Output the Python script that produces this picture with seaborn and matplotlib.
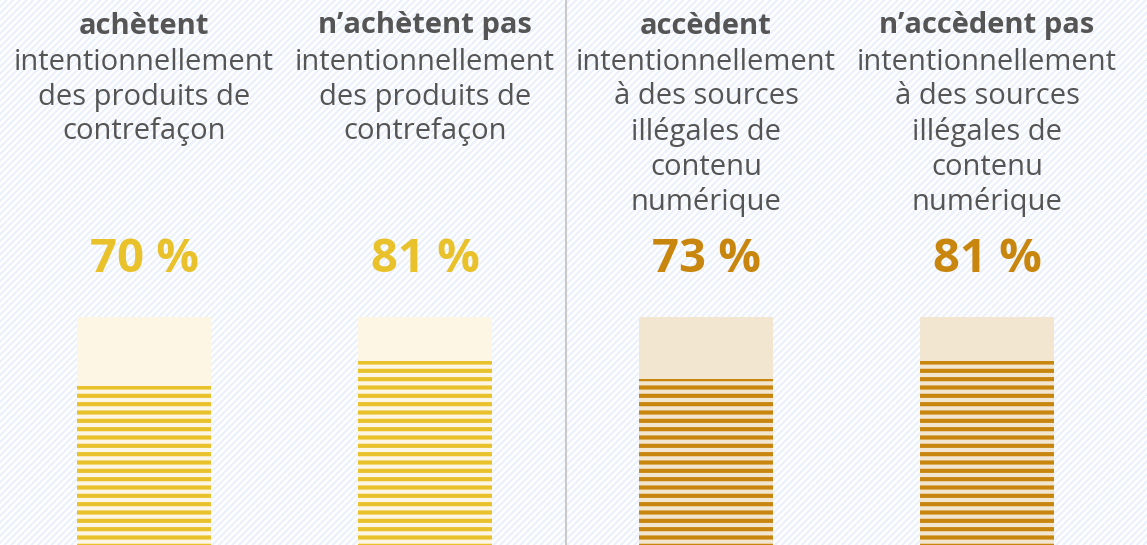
import numpy as np
import pandas as pd
import matplotlib
matplotlib.use("Agg")
import matplotlib.pyplot as plt
import matplotlib.transforms as mtransforms
from matplotlib.lines import Line2D
import seaborn as sns

# data
groups = ["achètent", "n’achètent pas", "accèdent", "n’accèdent pas"]
details = [
    ["intentionnellement", "des produits de", "contrefaçon"],
    ["intentionnellement", "des produits de", "contrefaçon"],
    ["intentionnellement", "à des sources", "illégales de", "contenu", "numérique"],
    ["intentionnellement", "à des sources", "illégales de", "contenu", "numérique"],
]
shares = [70, 81, 73, 81]
labels = ["70 %", "81 %", "73 %", "81 %"]

strong = ["#e9c22b", "#e9c22b", "#c8860f", "#c8860f"]
pale = ["#fdf6e4", "#fdf6e4", "#f2e6d1", "#f2e6d1"]
grey_txt = "#555555"

sns.set_theme(style="white")
plt.rcParams["font.family"] = ["Open Sans", "DejaVu Sans"]
plt.rcParams["hatch.linewidth"] = 3.0

W, H = 1147, 545
fig = plt.figure(figsize=(W / 100, H / 100), dpi=100)
fig.patch.set_facecolor("white")

# faint diagonal background stripes (pixel coords)
step = 6.7
for off in np.arange(-H, W + step, step):
    fig.add_artist(Line2D([off, off + H], [0, H], transform=None,
                          color="#ebf1fb", lw=1.6, zorder=-5))

# axes spanning the full height, x centred on the four columns
ax = fig.add_axes([3.5 / W, 0, 1124 / W, 1])
ax.set_facecolor("none")

df = pd.DataFrame({"group": groups, "share": shares, "full": [100] * 4})

sns.barplot(data=df, x="group", y="full", hue="group", palette=pale,
            width=0.477, legend=False, ax=ax, linewidth=0, saturation=1)
n_bg = len(ax.patches)
sns.barplot(data=df, x="group", y="share", hue="group", palette=pale,
            width=0.477, legend=False, ax=ax, linewidth=0, saturation=1)
for p, c in zip(ax.patches[n_bg:], strong):
    p.set_hatch("--")
    p.set_edgecolor(c)
    p.set_linewidth(0)
    p.set_zorder(3)

# value 0 at pixel 547, value 100 at pixel 317
per_px = 100 / 230
ax.set_ylim((547 - H) * per_px, 547 * per_px)
ax.set_xlim(-0.5, 3.5)
ax.axis("off")

# text in pixel-y coordinates
trans = mtransforms.blended_transform_factory(ax.transData, fig.transFigure)
for i, (g, lines) in enumerate(zip(groups, details)):
    ax.text(i, 1 - 26 / H, g, transform=trans, ha="center", va="center",
            fontsize=21, fontweight="bold", color=grey_txt)
    for k, ln in enumerate(lines):
        ax.text(i, 1 - (62 + 35 * k) / H, ln, transform=trans, ha="center",
                va="center", fontsize=21, color=grey_txt)
    ax.text(i, 1 - 260 / H, labels[i], transform=trans, ha="center",
            va="center", fontsize=34, fontweight="bold", color=strong[i])

# separator between the two halves
fig.add_artist(Line2D([566, 566], [0, H], transform=None, color="#c9c9c9", lw=1.5))

fig.savefig("out.png", dpi=100)
